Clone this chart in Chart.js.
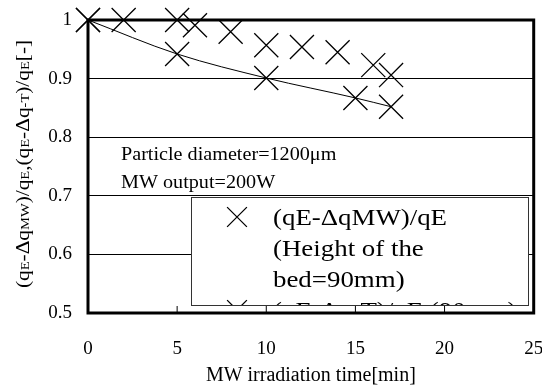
<!DOCTYPE html>
<html lang="en">
<head>
<meta charset="UTF-8" />
<title>MW irradiation time</title>
<style>
  body { margin: 0; background: #fff; overflow: hidden; }
  /* a little wider than the window: the right tick label overhangs the frame */
  #wrap { width: 552px; height: 385px; }
</style>
</head>
<body>
<div id="wrap"><canvas id="chart"></canvas></div>
<script src="https://cdn.jsdelivr.net/npm/chart.js"></script>
<script>
// irradiation time [min] and remaining ratio for both series
const timeMW = [0, 2, 5, 6, 8, 10, 12, 14, 16, 17];
const ratioMW = [1, 1, 1, 0.991, 0.98, 0.957, 0.954, 0.945, 0.923, 0.906];
const timeT = [0, 5, 10, 15, 17];
const ratioT = [1, 0.942, 0.901, 0.867, 0.852];
const seriesLabels = ['(qE-ΔqMW)/qE (Height of the bed=90mm)', '(qE-Δq-T)/qE (90mm)'];
const xTicks = [0, 5, 10, 15, 20, 25];
const yTicks = [0.5, 0.6, 0.7, 0.8, 0.9, 1];
const noteLines = ['Particle diameter=1200μm', 'MW output=200W'];
const xTitle = 'MW irradiation time[min]';
// y title pieces, second value = small letters
const yTitleParts = [['(q', 0], ['E', 1], ['-Δq', 0], ['MW', 1], [')/q', 0], ['E', 1], [',(q', 0], ['E', 1],
                     ['-Δq', 0], ['-T', 1], [')/q', 0], ['E', 1], ['[-]', 0]];

const SERIF = '"Liberation Serif", "Times New Roman", serif';
const WIDE = 1.12; // the serif face used here is a bit narrow

function wideText(ctx, text, x, y) {
    ctx.save();
    ctx.translate(x, y);
    ctx.scale(WIDE, 1);
    ctx.fillText(text, 0, 0);
    ctx.restore();
}

function wrapLines(ctx, text, maxW) {
    const words = text.split(' ');
    const lines = [];
    let cur = '';
    words.forEach(w => {
        const test = cur ? cur + ' ' + w : w;
        if (cur && ctx.measureText(test).width * WIDE > maxW) {
            lines.push(cur);
            cur = w;
        } else {
            cur = test;
        }
    });
    if (cur) lines.push(cur);
    return lines;
}

const frame = {
    id: 'frame',
    beforeDatasetsDraw(chart) {
        const {ctx, chartArea: a, scales: {x}} = chart;
        ctx.save();
        ctx.strokeStyle = '#000';
        ctx.lineWidth = 1;
        xTicks.forEach(v => {
            const px = x.getPixelForValue(v);
            ctx.beginPath();
            ctx.moveTo(px, a.bottom);
            ctx.lineTo(px, a.bottom - 7);
            ctx.stroke();
        });
        ctx.lineWidth = 3;
        ctx.strokeRect(a.left, a.top, a.right - a.left, a.bottom - a.top);
        ctx.restore();
    },
    afterDatasetsDraw(chart) {
        const {ctx, chartArea: a} = chart;
        ctx.save();
        ctx.fillStyle = '#000';
        ctx.textBaseline = 'alphabetic';

        // conditions note
        ctx.font = '18px ' + SERIF;
        noteLines.forEach((t, i) => wideText(ctx, t, a.left + 33, 160 + i * 28));

        // legend box
        const bx = 191, by = 197, bw = 337, bh = 108;
        ctx.fillStyle = '#fff';
        ctx.fillRect(bx, by, bw, bh);
        ctx.strokeStyle = '#333';
        ctx.lineWidth = 1;
        ctx.strokeRect(bx + 0.5, by + 0.5, bw, bh);
        ctx.beginPath();
        ctx.rect(bx + 1, by + 1, bw - 1, bh - 1);
        ctx.clip();

        ctx.font = '24px ' + SERIF;
        ctx.fillStyle = '#000';
        ctx.strokeStyle = '#000';
        let base = by + 28;
        chart.data.datasets.forEach(ds => {
            ctx.lineWidth = 1.3;
            Chart.helpers.drawPoint(ctx, {pointStyle: 'crossRot', radius: 14, rotation: 0, borderWidth: 1.3},
                bx + 46, base - 8);
            const lines = wrapLines(ctx, ds.label, 250);
            lines.forEach(l => {
                wideText(ctx, l, bx + 82, base);
                base += 31;
            });
        });
        ctx.restore();
    },
    afterDraw(chart) {
        const {ctx, chartArea: a} = chart;
        ctx.save();
        ctx.fillStyle = '#000';

        // x axis title
        ctx.font = '20px ' + SERIF;
        ctx.textAlign = 'center';
        ctx.fillText(xTitle, (a.left + a.right) / 2, 381);
        ctx.textAlign = 'left';

        // y axis title, mixed letter sizes
        ctx.translate(29, 164);
        ctx.rotate(-Math.PI / 2);
        ctx.scale(WIDE, 1);
        const fontOf = s => (s ? '13px ' : '19px ') + SERIF;
        let total = 0;
        yTitleParts.forEach(([t, s]) => { ctx.font = fontOf(s); total += ctx.measureText(t).width; });
        let pos = -total / 2;
        yTitleParts.forEach(([t, s]) => {
            ctx.font = fontOf(s);
            ctx.fillText(t, pos, 0);
            pos += ctx.measureText(t).width;
        });
        ctx.restore();
    }
};

new Chart(document.getElementById('chart'), {
    type: 'scatter',
    data: {
        datasets: [
            {
                label: seriesLabels[0],
                data: timeMW.map((t, i) => ({x: t, y: ratioMW[i]})),
                showLine: false,
                pointStyle: 'crossRot',
                pointRadius: 17,
                pointHoverRadius: 17,
                pointBorderColor: '#000',
                pointBorderWidth: 1.3,
                clip: false
            },
            {
                label: seriesLabels[1],
                data: timeT.map((t, i) => ({x: t, y: ratioT[i]})),
                showLine: true,
                borderColor: '#000',
                borderWidth: 1,
                cubicInterpolationMode: 'monotone',
                pointStyle: 'crossRot',
                pointRadius: 17,
                pointHoverRadius: 17,
                pointBorderColor: '#000',
                pointBorderWidth: 1.3,
                clip: false
            }
        ]
    },
    options: {
        responsive: true,
        maintainAspectRatio: false,
        animation: false,
        layout: {padding: {top: 20, right: 0, bottom: 0, left: 0}},
        plugins: {legend: {display: false}, tooltip: {enabled: false}},
        scales: {
            x: {
                type: 'linear',
                min: 0,
                max: 25,
                afterBuildTicks: s => { s.ticks = xTicks.map(v => ({value: v})); },
                afterFit: s => { s.height = 72; s.paddingLeft = 0; s.paddingRight = 0; },
                grid: {display: false},
                border: {display: false},
                ticks: {color: '#000', padding: 17, font: {family: SERIF, size: 19}}
            },
            y: {
                min: 0.5,
                max: 1,
                afterBuildTicks: s => { s.ticks = yTicks.map(v => ({value: v})); },
                afterFit: s => { s.width = 88; s.paddingTop = 0; s.paddingBottom = 0; },
                grid: {color: '#000', lineWidth: 1, drawTicks: false},
                border: {display: false},
                ticks: {color: '#000', padding: 16, font: {family: SERIF, size: 19},
                        callback: v => (v === 1 ? '1' : v.toFixed(1))}
            }
        }
    },
    plugins: [frame]
});
</script>
</body>
</html>
